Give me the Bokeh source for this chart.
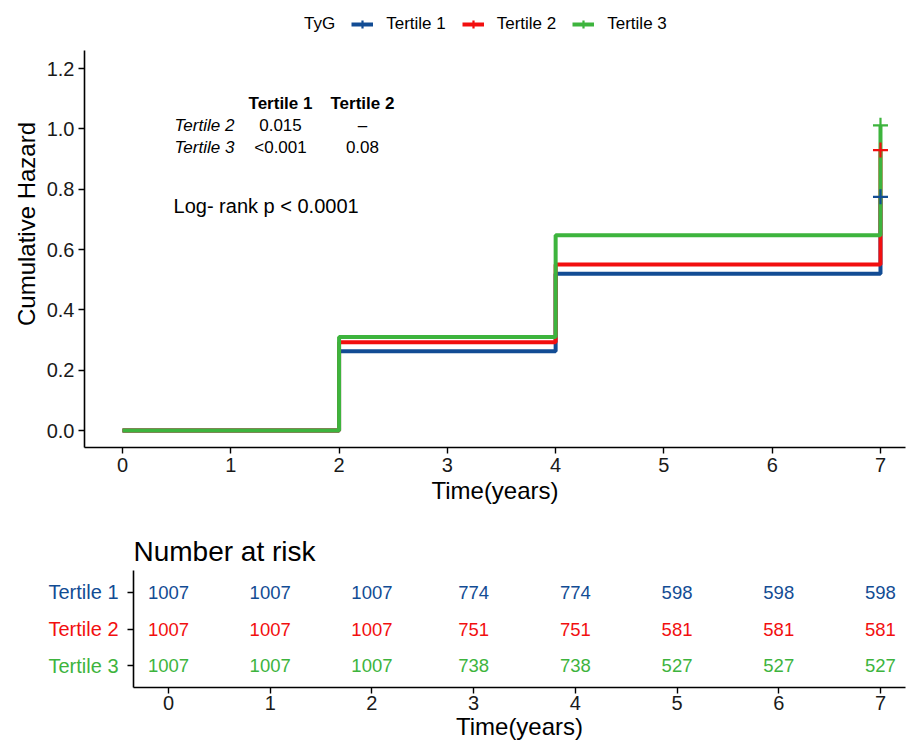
from bokeh.plotting import figure
from bokeh.models import (Range1d, Legend, LegendItem, Label, FixedTicker, ColumnDataSource,
                          PrintfTickFormatter)
from bokeh.layouts import row, column
from bokeh.embed import file_html
from bokeh.resources import INLINE
from bokeh.core.properties import value

# ---- data ----
groups = ["Tertile 1", "Tertile 2", "Tertile 3"]
colors = ["#124C94", "#F20F0F", "#3DB43D"]
legend_title = "TyG"
times = [0, 2, 4, 7]
haz_t1 = [0.0, 0.263, 0.520, 0.775]
haz_t2 = [0.0, 0.293, 0.551, 0.930]
haz_t3 = [0.0, 0.310, 0.648, 1.012]
hazards = [haz_t1, haz_t2, haz_t3]
y_ticks = [0.0, 0.2, 0.4, 0.6, 0.8, 1.0, 1.2]

risk_times = [0, 1, 2, 3, 4, 5, 6, 7]
risk_t1 = [1007, 1007, 1007, 774, 774, 598, 598, 598]
risk_t2 = [1007, 1007, 1007, 751, 751, 581, 581, 581]
risk_t3 = [1007, 1007, 1007, 738, 738, 527, 527, 527]
risks = [risk_t1, risk_t2, risk_t3]

pair_cols = ["Tertile 1", "Tertile 2"]
pair_rows = ["Tertile 2", "Tertile 3"]
pair_vals = [["0.015", "\u2013"], ["<0.001", "0.08"]]
logrank_text = "Log- rank p < 0.0001"

FONT = "Liberation Sans"


def style_axis(ax):
    ax.axis_line_width = 1.6
    ax.axis_line_color = "black"
    ax.major_tick_line_color = "black"
    ax.major_tick_line_width = 1.4
    ax.major_tick_out = 6
    ax.major_tick_in = 0
    ax.minor_tick_line_color = None
    ax.major_label_text_font = FONT
    ax.major_label_text_font_size = "20px"
    ax.major_label_text_color = "#1a1a1a"
    ax.axis_label_text_font = FONT
    ax.axis_label_text_font_size = "24px"
    ax.axis_label_text_font_style = "normal"
    ax.axis_label_text_color = "black"


# ---- main plot (legend sits inside the top of the frame) ----
p = figure(width=906, height=510, output_backend="svg", toolbar_location=None,
           x_range=Range1d(-0.351, 7.231), y_range=Range1d(-0.056, 1.426),
           min_border_left=84, min_border_right=1, min_border_top=0, min_border_bottom=63)
p.outline_line_color = None
p.grid.visible = False

r_head = p.scatter(x=[0], y=[0], size=1, line_alpha=0, fill_alpha=0)
lines = []
for name, col, hz in zip(groups, colors, hazards):
    lines.append(p.step(times, hz, mode="after", line_color=col, line_width=4))
items = [LegendItem(label=legend_title, renderers=[r_head])]
for name, col, hz, r_line in zip(groups, colors, hazards, lines):
    r_pt = p.scatter([times[-1]], [hz[-1]], marker="cross", size=15, line_color=col,
                     line_width=2.2, level="overlay")
    items.append(LegendItem(label=name, renderers=[r_line, r_pt]))

style_axis(p.xaxis[0])
style_axis(p.yaxis[0])
p.xaxis[0].ticker = FixedTicker(ticks=[0, 1, 2, 3, 4, 5, 6, 7])
p.xaxis[0].axis_label = "Time(years)"
p.xaxis[0].major_label_standoff = 4
p.xaxis[0].axis_label_standoff = 2
p.yaxis[0].ticker = FixedTicker(ticks=y_ticks)
p.yaxis[0].formatter = PrintfTickFormatter(format="%.1f")
p.yaxis[0].axis_label = "Cumulative Hazard"
p.yaxis[0].major_label_standoff = 4
p.yaxis[0].axis_label_standoff = 4
p.yaxis[0].bounds = (-0.056, 1.26)

legend = Legend(items=items, orientation="horizontal", location=(185, 413),
                label_text_font=FONT, label_text_font_size="17px", label_height=20,
                label_text_color="black",
                glyph_width=22, glyph_height=20, label_standoff=13, spacing=16,
                padding=2, margin=0, border_line_color=None, background_fill_alpha=0)
p.add_layout(legend, "center")

# pairwise table
hdr_x = [1.459, 2.216]
row_y = [1.012, 0.939]
for cx, ct in zip(hdr_x, pair_cols):
    p.add_layout(Label(x=cx, y=1.085, text=ct, text_align="center", text_baseline="middle",
                       text_color="black",
                       text_font=FONT, text_font_size="17px", text_font_style="bold"))
for ry, rn, vals in zip(row_y, pair_rows, pair_vals):
    p.add_layout(Label(x=0.48, y=ry, text=rn, text_align="left", text_baseline="middle",
                       text_color="black",
                       text_font=FONT, text_font_size="17px", text_font_style="italic"))
    for cx, v in zip(hdr_x, vals):
        p.add_layout(Label(x=cx, y=ry, text=v, text_align="center", text_baseline="middle",
                           text_color="black", text_font=FONT, text_font_size="17px"))
p.add_layout(Label(x=0.471, y=0.746, text=logrank_text, text_align="left", text_baseline="middle",
                   text_color="black", text_font=FONT, text_font_size="20px"))

# ---- risk table ----
row_pos = [3, 2, 1]
yr = Range1d(0.4, 3.6)

q = figure(width=783, height=234, output_backend="svg", toolbar_location=None,
           x_range=Range1d(-0.344, 7.246), y_range=yr,
           min_border_left=10, min_border_right=1, min_border_top=60, min_border_bottom=57,
           title="Number at risk")
q.outline_line_color = None
q.grid.visible = False
q.title.text_font = FONT
q.title.text_font_size = "28px"
q.title.text_font_style = "normal"
q.title.text_color = "black"
q.title.align = "left"
q.title.standoff = 8

for name, col, rk, yy in zip(groups, colors, risks, row_pos):
    src = ColumnDataSource(dict(x=risk_times, y=[yy] * len(risk_times), t=[str(v) for v in rk]))
    q.text(x="x", y="y", text="t", source=src, text_align="center", text_baseline="middle",
           text_color=col, text_font=value(FONT), text_font_size="18.5px")

style_axis(q.xaxis[0])
style_axis(q.yaxis[0])
q.xaxis[0].ticker = FixedTicker(ticks=risk_times)
q.xaxis[0].axis_label = "Time(years)"
q.xaxis[0].major_label_standoff = 2
q.xaxis[0].axis_label_standoff = 0
q.yaxis[0].ticker = FixedTicker(ticks=row_pos)
q.yaxis[0].major_label_overrides = {1: "", 2: "", 3: ""}
q.yaxis[0].major_label_standoff = 0

# coloured group labels of the risk table, in a narrow companion plot
lab = figure(width=123, height=234, output_backend="svg", toolbar_location=None,
             x_range=Range1d(0, 123), y_range=yr, x_axis_type=None, y_axis_type=None,
             min_border_left=0, min_border_right=0, min_border_top=60, min_border_bottom=57)
lab.outline_line_color = None
lab.grid.visible = False
lsrc = ColumnDataSource(dict(x=[118] * 3, y=row_pos, t=groups, c=colors))
lab.text(x="x", y="y", text="t", text_color="c", source=lsrc, text_align="right",
         text_baseline="middle", text_font=value(FONT), text_font_size="20px")

open("out.html", "w").write(file_html(column(p, row(lab, q, spacing=0), spacing=0), INLINE))
